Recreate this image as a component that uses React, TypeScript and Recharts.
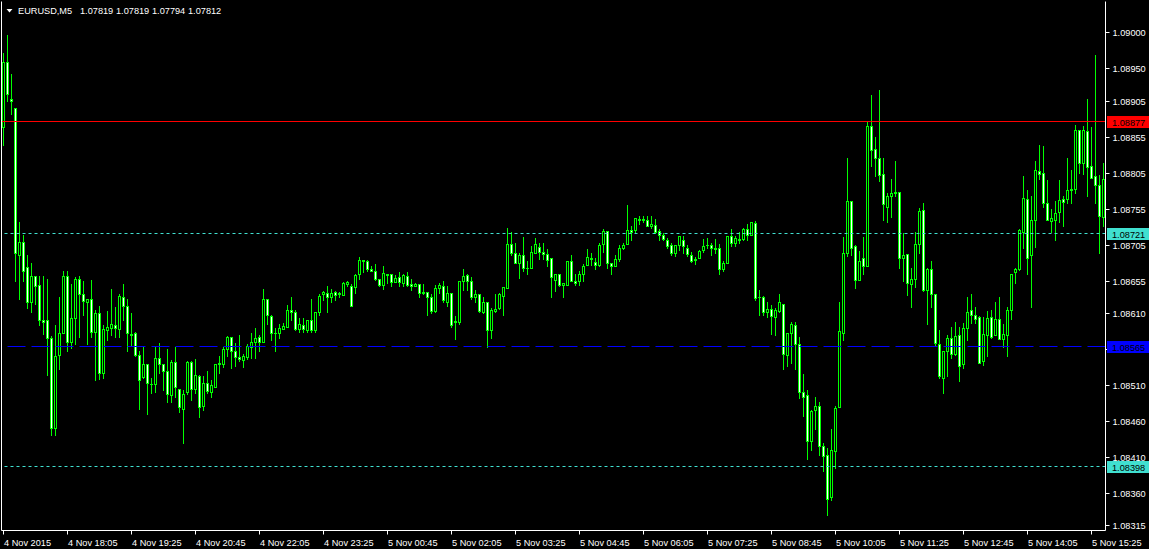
import React from "react";
import { ComposedChart, Bar, XAxis, YAxis, ReferenceLine } from "recharts";

// ---- data (EURUSD M5) ----
const open = [
1.08869,1.08959,1.08908,1.08895,1.08691,1.08709,1.08674,1.08625,1.08662,1.08649,
1.08601,1.08601,1.08576,1.08451,1.08552,1.08582,1.08662,1.08570,1.08603,1.08658,
1.08637,1.08626,1.08630,1.08584,1.08610,1.08527,1.08586,1.08589,1.08594,1.08588,
1.08632,1.08620,1.08581,1.08583,1.08552,1.08521,1.08539,1.08512,1.08511,1.08548,
1.08540,1.08530,1.08496,1.08542,1.08505,1.08477,1.08500,1.08542,1.08504,1.08522,
1.08481,1.08513,1.08501,1.08508,1.08539,1.08540,1.08560,1.08577,1.08557,1.08549,
1.08545,1.08549,1.08563,1.08570,1.08577,1.08570,1.08629,1.08606,1.08583,1.08583,
1.08588,1.08591,1.08614,1.08611,1.08588,1.08593,1.08587,1.08601,1.08586,1.08611,
1.08636,1.08638,1.08633,1.08639,1.08637,1.08635,1.08651,1.08648,1.08646,1.08665,
1.08684,1.08682,1.08671,1.08668,1.08657,1.08649,1.08665,1.08664,1.08653,1.08660,
1.08652,1.08662,1.08650,1.08647,1.08651,1.08638,1.08639,1.08633,1.08613,1.08645,
1.08648,1.08626,1.08638,1.08597,1.08597,1.08654,1.08663,1.08655,1.08632,1.08637,
1.08611,1.08625,1.08587,1.08613,1.08617,1.08634,1.08645,1.08706,1.08693,1.08680,
1.08691,1.08673,1.08672,1.08693,1.08702,1.08695,1.08692,1.08686,1.08656,1.08665,
1.08649,1.08649,1.08682,1.08655,1.08655,1.08665,1.08677,1.08686,1.08681,1.08677,
1.08706,1.08724,1.08679,1.08675,1.08685,1.08700,1.08706,1.08726,1.08725,1.08741,
1.08739,1.08740,1.08731,1.08732,1.08724,1.08719,1.08712,1.08705,1.08694,1.08705,
1.08712,1.08700,1.08691,1.08684,1.08687,1.08697,1.08704,1.08705,1.08701,1.08700,
1.08671,1.08679,1.08717,1.08707,1.08713,1.08713,1.08727,1.08718,1.08735,1.08632,
1.08632,1.08611,1.08616,1.08605,1.08613,1.08622,1.08552,1.08582,1.08594,1.08567,
1.08500,1.08496,1.08433,1.08475,1.08481,1.08425,1.08413,1.08354,1.08419,1.08480,
1.08583,1.08694,1.08766,1.08703,1.08656,1.08686,1.08675,1.08870,1.08838,1.08826,
1.08803,1.08758,1.08773,1.08777,1.08778,1.08686,1.08692,1.08650,1.08657,1.08706,
1.08753,1.08642,1.08671,1.08637,1.08567,1.08520,1.08558,1.08576,1.08553,1.08580,
1.08539,1.08589,1.08614,1.08608,1.08604,1.08543,1.08579,1.08604,1.08579,1.08602,
1.08574,1.08579,1.08615,1.08667,1.08671,1.08723,1.08768,1.08691,1.08740,1.08808,
1.08804,1.08763,1.08738,1.08740,1.08750,1.08768,1.08768,1.08781,1.08783,1.08864,
1.08818,1.08863,1.08814,1.08800,1.08788,1.08744,
];
const high = [
1.08971,1.08996,1.08942,1.08895,1.08736,1.08719,1.08691,1.08680,1.08662,1.08662,
1.08662,1.08658,1.08578,1.08594,1.08633,1.08669,1.08669,1.08651,1.08660,1.08662,
1.08655,1.08630,1.08656,1.08614,1.08620,1.08594,1.08613,1.08644,1.08619,1.08637,
1.08651,1.08630,1.08610,1.08584,1.08557,1.08564,1.08539,1.08520,1.08563,1.08569,
1.08540,1.08560,1.08545,1.08563,1.08505,1.08503,1.08544,1.08544,1.08546,1.08524,
1.08522,1.08530,1.08517,1.08540,1.08550,1.08563,1.08578,1.08577,1.08568,1.08580,
1.08553,1.08567,1.08582,1.08589,1.08580,1.08643,1.08629,1.08608,1.08589,1.08595,
1.08596,1.08621,1.08633,1.08614,1.08603,1.08603,1.08601,1.08629,1.08612,1.08637,
1.08641,1.08648,1.08643,1.08641,1.08640,1.08653,1.08655,1.08651,1.08665,1.08688,
1.08684,1.08684,1.08675,1.08678,1.08657,1.08676,1.08665,1.08664,1.08663,1.08667,
1.08665,1.08667,1.08657,1.08652,1.08651,1.08651,1.08639,1.08637,1.08649,1.08652,
1.08655,1.08648,1.08638,1.08606,1.08655,1.08671,1.08665,1.08660,1.08642,1.08637,
1.08632,1.08625,1.08617,1.08637,1.08638,1.08646,1.08728,1.08723,1.08708,1.08693,
1.08716,1.08682,1.08703,1.08714,1.08708,1.08708,1.08699,1.08686,1.08665,1.08665,
1.08652,1.08683,1.08691,1.08664,1.08669,1.08678,1.08699,1.08694,1.08686,1.08708,
1.08727,1.08724,1.08680,1.08691,1.08705,1.08708,1.08760,1.08731,1.08742,1.08745,
1.08745,1.08745,1.08745,1.08741,1.08727,1.08721,1.08714,1.08708,1.08705,1.08717,
1.08717,1.08705,1.08695,1.08688,1.08697,1.08713,1.08715,1.08708,1.08713,1.08706,
1.08683,1.08717,1.08727,1.08717,1.08722,1.08728,1.08734,1.08736,1.08738,1.08642,
1.08634,1.08626,1.08621,1.08617,1.08637,1.08622,1.08583,1.08597,1.08597,1.08577,
1.08526,1.08503,1.08476,1.08493,1.08486,1.08430,1.08422,1.08449,1.08481,1.08625,
1.08716,1.08826,1.08766,1.08705,1.08696,1.08716,1.08875,1.08913,1.08855,1.08920,
1.08825,1.08777,1.08796,1.08821,1.08778,1.08721,1.08692,1.08672,1.08722,1.08756,
1.08763,1.08672,1.08682,1.08637,1.08586,1.08558,1.08579,1.08591,1.08597,1.08590,
1.08596,1.08633,1.08637,1.08619,1.08606,1.08604,1.08613,1.08615,1.08626,1.08632,
1.08595,1.08619,1.08665,1.08672,1.08727,1.08800,1.08781,1.08773,1.08821,1.08844,
1.08842,1.08795,1.08755,1.08766,1.08795,1.08773,1.08826,1.08809,1.08871,1.08864,
1.08870,1.08908,1.08868,1.08969,1.08802,1.08819,
];
const low = [
1.08844,1.08905,1.08887,1.08655,1.08630,1.08655,1.08617,1.08612,1.08623,1.08593,
1.08581,1.08524,1.08441,1.08440,1.08533,1.08582,1.08557,1.08562,1.08567,1.08577,
1.08608,1.08567,1.08577,1.08517,1.08519,1.08520,1.08572,1.08580,1.08577,1.08577,
1.08600,1.08558,1.08566,1.08550,1.08477,1.08520,1.08470,1.08499,1.08500,1.08527,
1.08503,1.08487,1.08486,1.08494,1.08473,1.08430,1.08497,1.08489,1.08499,1.08466,
1.08476,1.08499,1.08493,1.08507,1.08527,1.08535,1.08550,1.08534,1.08536,1.08544,
1.08535,1.08546,1.08547,1.08547,1.08557,1.08570,1.08595,1.08572,1.08557,1.08575,
1.08588,1.08591,1.08600,1.08587,1.08584,1.08584,1.08584,1.08584,1.08584,1.08608,
1.08628,1.08611,1.08625,1.08628,1.08632,1.08635,1.08647,1.08620,1.08638,1.08657,
1.08667,1.08668,1.08668,1.08656,1.08647,1.08644,1.08652,1.08648,1.08653,1.08647,
1.08647,1.08647,1.08642,1.08647,1.08633,1.08637,1.08608,1.08610,1.08611,1.08638,
1.08626,1.08620,1.08591,1.08574,1.08595,1.08642,1.08642,1.08630,1.08625,1.08611,
1.08610,1.08563,1.08575,1.08611,1.08616,1.08608,1.08645,1.08691,1.08680,1.08659,
1.08668,1.08664,1.08672,1.08693,1.08685,1.08685,1.08675,1.08632,1.08641,1.08647,
1.08632,1.08649,1.08654,1.08649,1.08649,1.08655,1.08677,1.08677,1.08671,1.08675,
1.08695,1.08673,1.08664,1.08675,1.08683,1.08699,1.08706,1.08712,1.08721,1.08734,
1.08736,1.08731,1.08728,1.08721,1.08712,1.08711,1.08700,1.08691,1.08689,1.08697,
1.08693,1.08689,1.08681,1.08678,1.08687,1.08695,1.08701,1.08691,1.08693,1.08664,
1.08669,1.08679,1.08703,1.08703,1.08708,1.08712,1.08711,1.08718,1.08628,1.08608,
1.08608,1.08604,1.08581,1.08580,1.08612,1.08533,1.08537,1.08541,1.08533,1.08492,
1.08467,1.08408,1.08420,1.08449,1.08413,1.08390,1.08329,1.08351,1.08395,1.08480,
1.08573,1.08689,1.08691,1.08645,1.08656,1.08664,1.08675,1.08814,1.08800,1.08794,
1.08740,1.08736,1.08744,1.08772,1.08672,1.08655,1.08635,1.08619,1.08646,1.08693,
1.08641,1.08595,1.08619,1.08566,1.08520,1.08499,1.08523,1.08547,1.08552,1.08515,
1.08534,1.08573,1.08596,1.08596,1.08541,1.08538,1.08550,1.08576,1.08579,1.08574,
1.08563,1.08550,1.08602,1.08652,1.08670,1.08701,1.08665,1.08618,1.08702,1.08796,
1.08758,1.08739,1.08722,1.08711,1.08736,1.08731,1.08763,1.08763,1.08777,1.08805,
1.08803,1.08773,1.08797,1.08763,1.08693,1.08731,
];
const close = [
1.08959,1.08915,1.08905,1.08694,1.08709,1.08669,1.08625,1.08662,1.08648,1.08600,
1.08598,1.08575,1.08450,1.08551,1.08583,1.08662,1.08570,1.08603,1.08658,1.08637,
1.08627,1.08630,1.08584,1.08610,1.08527,1.08588,1.08591,1.08595,1.08589,1.08634,
1.08620,1.08582,1.08580,1.08552,1.08517,1.08539,1.08513,1.08511,1.08548,1.08540,
1.08529,1.08497,1.08542,1.08507,1.08479,1.08498,1.08542,1.08505,1.08524,1.08480,
1.08513,1.08502,1.08510,1.08540,1.08541,1.08560,1.08577,1.08557,1.08549,1.08546,
1.08550,1.08565,1.08570,1.08575,1.08570,1.08629,1.08607,1.08582,1.08582,1.08589,
1.08592,1.08614,1.08611,1.08588,1.08595,1.08588,1.08601,1.08586,1.08611,1.08634,
1.08639,1.08633,1.08638,1.08635,1.08638,1.08652,1.08653,1.08620,1.08663,1.08684,
1.08683,1.08671,1.08668,1.08657,1.08649,1.08666,1.08663,1.08653,1.08659,1.08653,
1.08663,1.08649,1.08647,1.08651,1.08638,1.08639,1.08633,1.08613,1.08645,1.08649,
1.08628,1.08638,1.08594,1.08599,1.08655,1.08662,1.08654,1.08633,1.08637,1.08613,
1.08625,1.08586,1.08614,1.08616,1.08636,1.08646,1.08706,1.08693,1.08680,1.08691,
1.08672,1.08672,1.08695,1.08706,1.08695,1.08692,1.08684,1.08660,1.08665,1.08649,
1.08652,1.08683,1.08655,1.08652,1.08665,1.08676,1.08688,1.08685,1.08677,1.08705,
1.08724,1.08679,1.08675,1.08685,1.08700,1.08705,1.08726,1.08723,1.08742,1.08739,
1.08741,1.08731,1.08734,1.08723,1.08719,1.08713,1.08703,1.08693,1.08705,1.08717,
1.08703,1.08692,1.08683,1.08685,1.08696,1.08703,1.08705,1.08701,1.08699,1.08671,
1.08680,1.08717,1.08708,1.08715,1.08712,1.08727,1.08718,1.08736,1.08631,1.08633,
1.08612,1.08616,1.08606,1.08614,1.08625,1.08553,1.08583,1.08595,1.08567,1.08501,
1.08494,1.08433,1.08474,1.08481,1.08426,1.08412,1.08352,1.08420,1.08478,1.08585,
1.08693,1.08766,1.08701,1.08656,1.08682,1.08676,1.08870,1.08837,1.08826,1.08802,
1.08761,1.08773,1.08777,1.08778,1.08686,1.08691,1.08652,1.08658,1.08706,1.08752,
1.08642,1.08671,1.08636,1.08568,1.08522,1.08558,1.08576,1.08553,1.08578,1.08537,
1.08589,1.08612,1.08607,1.08602,1.08541,1.08581,1.08603,1.08577,1.08602,1.08574,
1.08581,1.08615,1.08665,1.08671,1.08725,1.08770,1.08686,1.08740,1.08809,1.08803,
1.08763,1.08739,1.08742,1.08749,1.08767,1.08765,1.08781,1.08783,1.08864,1.08819,
1.08864,1.08813,1.08797,1.08788,1.08745,1.08796,
];

const timeTickIndex = [0, 16, 32, 48, 64, 80, 96, 112, 128, 144, 160, 176, 192, 208, 224, 240, 256, 272];
const timeTickLabels = [
  "4 Nov 2015", "4 Nov 18:05", "4 Nov 19:25", "4 Nov 20:45", "4 Nov 22:05", "4 Nov 23:25",
  "5 Nov 00:45", "5 Nov 02:05", "5 Nov 03:25", "5 Nov 04:45", "5 Nov 06:05", "5 Nov 07:25",
  "5 Nov 08:45", "5 Nov 10:05", "5 Nov 11:25", "5 Nov 12:45", "5 Nov 14:05", "5 Nov 15:25",
];
const priceTicks = [1.09, 1.0895, 1.08905, 1.08855, 1.08805, 1.08755, 1.08705, 1.08655, 1.0861, 1.0856, 1.0851, 1.0846, 1.0841, 1.0836, 1.08315];
const levelPrices = [1.08877, 1.08721, 1.08565, 1.08398];
const symbolName = "EURUSD,M5";
const titleOHLC = [1.07819, 1.07819, 1.07794, 1.07812];

// ---- layout / style ----
const W = 1149;
const H = 549;
const PLOT_TOP = 1.5;
const PLOT_BOTTOM = 530.5;
const PX_PER_PRICE = 72000;
const ANCHOR_Y = 32.8; // svg y of 1.09000
const Y_MAX = 1.09 + (ANCHOR_Y - PLOT_TOP) / PX_PER_PRICE;
const Y_MIN = 1.09 - (PLOT_BOTTOM - ANCHOR_Y) / PX_PER_PRICE;
const LIME = "#00ff00";
const FONT = "'Liberation Sans', Arial, sans-serif";
const FS = 9.2;

const levelStyles = [
  { stroke: "#ff0000", dash: undefined as string | undefined, bg: "#ff0000", fg: "#000000" },
  { stroke: "#40e0d0", dash: "3 3", bg: "#40e0d0", fg: "#000000" },
  { stroke: "#0000ff", dash: "18 6", bg: "#0000ff", fg: "#000000" },
  { stroke: "#40e0d0", dash: "3 3", bg: "#40e0d0", fg: "#000000" },
];

const rows = open.map((o, i) => ({ i, open: o, high: high[i], low: low[i], close: close[i] }));

const Candle = (props: any) => {
  const { x, y, width, height, payload } = props;
  if (x == null || y == null || !payload) return null;
  const col = Math.floor(x + width / 2);
  const top = Math.min(y, y + height);
  const bot = Math.max(y, y + height);
  const { open: o, high: h, low: l, close: c } = payload;
  const rng = h - l;
  const py = (v: number) => (rng > 0 ? top + ((h - v) / rng) * (bot - top) : top);
  const row = (v: number) => Math.floor(py(v));
  const rH = row(h);
  const rL = row(l);
  const rT = row(Math.max(o, c));
  const rB = row(Math.min(o, c));
  const inner = rB - rT - 1;
  return (
    <g>
      <rect x={col} y={rH} width={1} height={rL - rH + 1} fill={LIME} />
      <rect x={col - 1} y={rT} width={3} height={rB - rT + 1} fill={LIME} />
      {inner > 0 && <rect x={col} y={rT + 1} width={1} height={inner} fill={c > o ? "#000000" : "#ffffff"} />}
    </g>
  );
};

const XTick = (props: any) => {
  const { x, payload } = props;
  const k = timeTickIndex.indexOf(payload.value);
  if (k < 0) return null;
  const xc = Math.floor(x) + 0.5;
  return (
    <g>
      <line x1={xc} x2={xc} y1={PLOT_BOTTOM} y2={PLOT_BOTTOM + 4} stroke="#ffffff" strokeWidth={1} />
      <text x={xc + 0.5} y={546} fill="#ffffff" fontSize={FS} fontFamily={FONT} textAnchor="start">
        {timeTickLabels[k]}
      </text>
    </g>
  );
};

const YTick = (props: any) => {
  const { y, payload } = props;
  const v = payload.value as number;
  const axisX = W - 43.5;
  const li = levelPrices.indexOf(v);
  const yr = Math.floor(y);
  if (li >= 0) {
    const s = levelStyles[li];
    return (
      <g>
        <rect x={axisX + 1.5} y={yr - 5} width={W - axisX} height={12} fill={s.bg} />
        <text x={axisX + 6.5} y={yr + 4.5} fill={s.fg} fontSize={FS} fontFamily={FONT}>
          {v.toFixed(5)}
        </text>
      </g>
    );
  }
  return (
    <g>
      <line x1={axisX} x2={axisX + 4} y1={yr + 0.5} y2={yr + 0.5} stroke="#ffffff" strokeWidth={1} />
      <text x={axisX + 7} y={yr + 4} fill="#ffffff" fontSize={FS} fontFamily={FONT}>
        {v.toFixed(5)}
      </text>
    </g>
  );
};

const LevelLine = (props: any) => {
  const { x1, x2, y1, stroke, strokeDasharray } = props;
  if (x1 == null || y1 == null) return null;
  const yy = Math.floor(y1) + 0.5;
  return <line x1={x1} x2={x2} y1={yy} y2={yy} stroke={stroke} strokeWidth={1} strokeDasharray={strokeDasharray} />;
};

export default function App() {
  const fmt = (v: number) => v.toFixed(5);
  return (
    <div style={{ position: "absolute", left: 0, top: 0, width: W, height: H, background: "#000000", overflow: "hidden" }}>
      <ComposedChart width={W} height={H} data={rows} margin={{ top: PLOT_TOP, right: 0, bottom: 0, left: 0 }} barCategoryGap={0}>
        <XAxis
          dataKey="i"
          type="category"
          ticks={timeTickIndex}
          interval={0}
          tick={<XTick />}
          tickLine={false}
          axisLine={{ stroke: "#ffffff" }}
          height={H - PLOT_BOTTOM}
        />
        <YAxis
          yAxisId="L"
          orientation="left"
          type="number"
          width={1.5}
          domain={[Y_MIN, Y_MAX]}
          allowDataOverflow
          tick={false}
          tickLine={false}
          axisLine={{ stroke: "#ffffff" }}
        />
        <YAxis
          yAxisId="R"
          orientation="right"
          type="number"
          width={43.5}
          domain={[Y_MIN, Y_MAX]}
          allowDataOverflow
          ticks={[...priceTicks, ...levelPrices]}
          interval={0}
          tick={<YTick />}
          tickLine={false}
          axisLine={{ stroke: "#ffffff" }}
        />
        {levelPrices.map((p, k) => (
          <ReferenceLine
            key={k}
            yAxisId="R"
            y={p}
            stroke={levelStyles[k].stroke}
            strokeDasharray={levelStyles[k].dash}
            shape={<LevelLine />}
          />
        ))}
        <Bar
          yAxisId="R"
          dataKey={(d: any) => [d.low, d.high]}
          shape={<Candle />}
          isAnimationActive={false}
        />
      </ComposedChart>
      <svg style={{ position: "absolute", left: 0, top: 0 }} width={320} height={20}>
        <polygon points="6.5,9 12.5,9 9.5,12.5" fill="#ffffff" />
        <text x={18} y={14} fill="#ffffff" fontSize={FS} fontFamily={FONT}>
          {symbolName}
        </text>
        {titleOHLC.map((v, k) => (
          <text key={k} x={80 + k * 36} y={14} fill="#ffffff" fontSize={FS} fontFamily={FONT}>
            {fmt(v)}
          </text>
        ))}
      </svg>
    </div>
  );
}
